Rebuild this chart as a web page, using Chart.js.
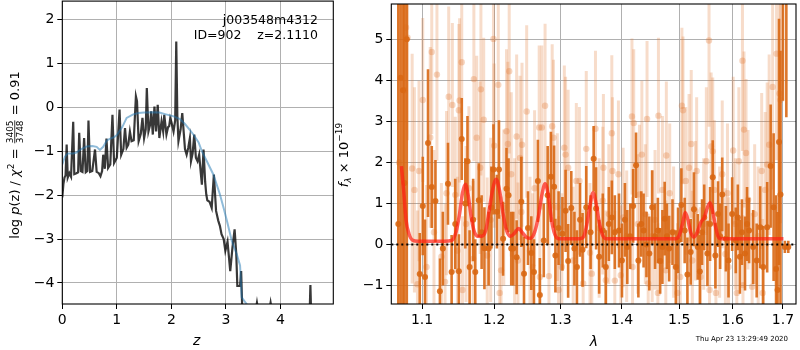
<!DOCTYPE html>
<html>
<head>
<meta charset="utf-8">
<script src="https://cdn.jsdelivr.net/npm/chart.js@4.4.0/dist/chart.umd.min.js"></script>
<style>
  html, body { margin: 0; padding: 0; background: #fff; }
  #wrap { position: relative; width: 800px; height: 350px; overflow: hidden; }
  #left { position: absolute; left: 0; top: 0; }
  #right { position: absolute; left: 330px; top: 0; }
  #stamp { position: absolute; left: 0; top: 335px; width: 788px; text-align: right;
           font: 7px "DejaVu Sans", sans-serif; line-height: 8px; color: #000; }
</style>
</head>
<body>
<div id="wrap">
  <canvas id="left" width="340" height="350"></canvas>
  <canvas id="right" width="470" height="350"></canvas>
  <div id="stamp">Thu Apr 23 13:29:49 2020</div>
</div>
<script>
// ---- left panel: log p(z) ----
const zTicks = [0, 1, 2, 3, 4];
const pTicks = [-4, -3, -2, -1, 0, 1, 2];

const zDark = [0.00, 0.02, 0.04, 0.06, 0.08, 0.10, 0.13, 0.16, 0.20, 0.22, 0.26, 0.29, 0.31, 0.34, 0.37,
  0.40, 0.43, 0.46, 0.48, 0.51, 0.55, 0.60, 0.63, 0.67, 0.70, 0.73, 0.75, 0.78, 0.81, 0.84, 0.88,
  0.92, 0.95, 1.00, 1.05, 1.08, 1.12, 1.15, 1.18, 1.21, 1.24, 1.27, 1.31, 1.35, 1.37, 1.40, 1.44,
  1.47, 1.50, 1.53, 1.55, 1.58, 1.61, 1.63, 1.66, 1.69, 1.72, 1.75, 1.78, 1.82, 1.85, 1.87, 1.91,
  1.94, 1.96, 1.98, 2.00, 2.04, 2.07, 2.09, 2.11, 2.13, 2.17, 2.20, 2.23, 2.25, 2.28, 2.31, 2.34,
  2.36, 2.39, 2.42, 2.45, 2.48, 2.51, 2.54, 2.56, 2.59, 2.62, 2.64, 2.66, 2.70, 2.74, 2.78, 2.82,
  2.86, 2.89, 2.92, 2.96, 2.99, 3.03, 3.08, 3.12, 3.16, 3.19, 3.21, 3.26, 3.28, 3.30, 3.40, 3.55,
  3.57, 3.59, 3.80, 3.82, 3.84, 4.20, 4.53, 4.55, 4.57, 4.97];
const logpDark = [-2.05, -1.75, -1.60, -1.55, -0.85, -1.60, -1.50, -1.58, -0.33, -1.52, -1.50, -1.48, -0.58, -1.45, -1.47,
  -0.70, -1.48, -1.45, -0.30, -1.47, -1.45, -0.96, -1.47, -1.50, -1.57, -1.45, -1.08, -1.40, -0.71, -1.38, -1.30,
  -0.17, -1.27, -1.15, -0.05, -1.08, -0.95, -0.47, -0.92, -0.85, -0.55, -0.77, -0.75, 0.25, 0.14, -0.77, -0.60,
  -0.24, -0.70, -0.50, 0.44, -0.55, -0.40, -0.09, -0.62, 0.02, -0.55, 0.06, -0.70, -0.32, -0.55, -0.17, -0.62,
  -0.45, -0.43, -0.25, -0.33, -0.55, -0.30, 1.50, -0.20, -0.77, -0.50, -0.13, -0.62, -0.95, -1.08, -0.92, -0.70,
  -1.23, -1.05, -0.62, -1.15, -1.23, -1.08, -1.50, -1.76, -0.96, -1.70, -1.98, -2.12, -2.15, -2.29, -1.53, -2.36,
  -2.58, -2.70, -2.89, -3.00, -3.27, -3.06, -3.73, -3.20, -2.78, -3.33, -4.07, -4.07, -3.73, -4.60, -4.90, -4.60,
  -4.45, -4.60, -4.60, -4.45, -4.60, -5.00, -5.00, -4.05, -5.00, -5.20];

const zBlue = [0.00, 0.05, 0.10, 0.20, 0.26, 0.35, 0.45, 0.55, 0.63, 0.69, 0.75, 0.82, 0.87, 0.95, 1.00,
  1.10, 1.18, 1.30, 1.40, 1.50, 1.65, 1.78, 1.90, 2.03, 2.16, 2.25, 2.33, 2.41, 2.50, 2.56, 2.66,
  2.77, 2.89, 2.96, 3.02, 3.11, 3.20, 3.26, 3.29, 3.38, 3.45, 3.60];
const logpBlue = [-1.30, -1.12, -1.05, -1.05, -1.03, -0.95, -0.89, -0.88, -0.90, -0.97, -0.90, -0.75, -0.72, -0.68, -0.63,
  -0.45, -0.24, -0.16, -0.13, -0.12, -0.11, -0.12, -0.16, -0.20, -0.27, -0.38, -0.50, -0.63, -0.80, -1.00, -1.25,
  -1.53, -1.98, -2.30, -2.59, -3.05, -3.35, -3.60, -4.33, -4.48, -4.60, -4.70];

// ---- right panel: spectrum ----
const lamTicks = [1.1, 1.2, 1.3, 1.4, 1.5, 1.6, 1.7];
const fluxTicks = [-1, 0, 1, 2, 3, 4, 5];

const darkLam = [1.069, 1.072, 1.075, 1.077, 1.080, 1.097, 1.101, 1.104, 1.108, 1.113, 1.118, 1.124, 1.128, 1.135,
  1.140, 1.145, 1.150, 1.154, 1.159, 1.162, 1.165, 1.170, 1.173, 1.178, 1.182, 1.186, 1.192, 1.196, 1.199,
  1.204, 1.207, 1.213, 1.218, 1.221, 1.225, 1.228, 1.233, 1.240, 1.244, 1.250, 1.255, 1.259, 1.265, 1.268,
  1.274, 1.280, 1.285, 1.290, 1.292, 1.297, 1.303, 1.308, 1.312, 1.317, 1.322, 1.326, 1.331, 1.335, 1.341,
  1.348, 1.353, 1.357, 1.362, 1.368, 1.373, 1.378, 1.383, 1.388, 1.395, 1.400, 1.405, 1.409, 1.414, 1.419,
  1.424, 1.428, 1.433, 1.437, 1.442, 1.447, 1.452, 1.457, 1.462, 1.466, 1.470, 1.474, 1.478, 1.482, 1.488,
  1.494, 1.498, 1.504, 1.510, 1.515, 1.521, 1.527, 1.534, 1.538, 1.542, 1.546, 1.552, 1.557, 1.562, 1.567,
  1.572, 1.576, 1.580, 1.587, 1.592, 1.599, 1.606, 1.610, 1.614, 1.618, 1.624, 1.628, 1.632, 1.640, 1.647,
  1.654, 1.660, 1.668, 1.675, 1.681, 1.686, 1.689, 1.692, 1.695, 1.700, 1.704, 1.707, 1.711];
const darkFlux = [0.5, 4.06, 3.76, 1.50, 5.0, -0.72, 0.94, -0.79, 2.47, 1.40, 1.06, -1.14, -0.10, 1.48,
  -0.67, 0.50, -0.65, 2.57, 1.00, 2.03, -0.55, 0.60, -0.67, 1.08, 0.30, -0.09, -0.10, 0.90, 1.83,
  0.80, 1.83, 0.14, 1.36, 1.20, -0.10, -0.10, -0.31, 1.04, -0.71, 0.40, -0.21, -0.67, 1.55, -1.23,
  0.10, 1.20, 1.65, 1.41, -0.27, 0.40, 0.26, 0.82, -0.40, 0.89, -0.10, -0.55, 0.60, -0.13, 0.91,
  0.30, 2.09, 0.88, -0.30, 0.34, -0.55, 0.50, 0.66, 0.30, 0.34, -0.39, 0.60, -0.06, 0.20, 0.94,
  1.93, -0.39, 0.50, 0.34, 0.00, -0.22, 0.91, 0.20, 0.34, -0.40, -0.06, 0.63, 0.20, -0.10, 0.30,
  -0.55, 0.10, 0.96, 0.34, -0.73, -0.18, 0.86, -0.06, -0.66, 0.30, 0.66, -0.22, 0.50, 1.64, -0.27,
  0.74, 0.20, 1.22, 0.14, -0.39, 0.74, 0.10, 0.66, -0.30, 0.30, -0.22, 0.50, 0.34, -0.06, -0.39,
  0.42, -0.55, 0.42, 1.91, 0.91, -0.60, -1.11, 2.50, 1.22, 8.0, -0.06, 7.0, -0.06];
const darkErr = [8, 8, 8, 8, 8, 1.0, 1.2, 1.4, 1.8, 1.0, 1.0, 0.8, 0.9, 1.0,
  0.9, 1.1, 0.9, 1.0, 1.1, 1.1, 0.9, 1.0, 0.8, 0.9, 0.9, 1.0, 0.9, 1.0, 1.1,
  0.9, 1.2, 0.9, 1.0, 0.9, 0.9, 0.9, 0.9, 1.1, 0.9, 0.9, 0.9, 0.8, 1.0, 0.9,
  0.9, 1.2, 1.1, 1.0, 0.9, 0.9, 0.9, 1.0, 0.9, 0.9, 0.9, 0.9, 0.9, 0.9, 1.0,
  0.9, 0.8, 1.0, 0.9, 0.9, 0.9, 0.9, 0.9, 0.9, 0.9, 0.9, 0.9, 0.9, 0.8, 0.9,
  0.8, 0.9, 0.8, 0.9, 0.8, 0.9, 0.9, 0.8, 0.8, 0.8, 0.9, 0.9, 0.8, 0.8, 0.8,
  0.9, 0.8, 0.9, 0.8, 0.9, 0.8, 0.9, 0.8, 0.9, 0.8, 0.8, 0.8, 0.9, 0.9, 0.8,
  0.8, 0.8, 0.9, 0.8, 0.9, 0.9, 0.8, 0.8, 0.9, 0.8, 0.9, 0.9, 0.8, 0.9, 0.9,
  1.0, 1.0, 1.1, 1.5, 1.8, 1.8, 1.9, 3.0, 3.5, 4.5, 0.15, 3.9, 0.15];

const lightLam = [1.070, 1.077, 1.079, 1.081, 1.087, 1.090, 1.094, 1.096, 1.101, 1.106, 1.111, 1.113, 1.116, 1.120,
  1.126, 1.131, 1.133, 1.136, 1.141, 1.145, 1.148, 1.150, 1.151, 1.154, 1.155, 1.160, 1.164, 1.170, 1.171,
  1.175, 1.180, 1.181, 1.185, 1.190, 1.195, 1.199, 1.200, 1.206, 1.208, 1.210, 1.214, 1.218, 1.220, 1.222,
  1.225, 1.230, 1.233, 1.235, 1.238, 1.240, 1.241, 1.248, 1.253, 1.257, 1.260, 1.267, 1.268, 1.271, 1.276,
  1.282, 1.287, 1.289, 1.295, 1.297, 1.302, 1.306, 1.308, 1.312, 1.320, 1.325, 1.330, 1.336, 1.341, 1.347,
  1.350, 1.356, 1.362, 1.368, 1.369, 1.373, 1.378, 1.383, 1.384, 1.388, 1.394, 1.398, 1.402, 1.408, 1.417,
  1.418, 1.420, 1.427, 1.430, 1.434, 1.440, 1.443, 1.445, 1.452, 1.457, 1.462, 1.463, 1.470, 1.476, 1.477,
  1.483, 1.490, 1.497, 1.502, 1.505, 1.507, 1.512, 1.518, 1.522, 1.524, 1.530, 1.532, 1.539, 1.545, 1.550,
  1.555, 1.556, 1.559, 1.562, 1.565, 1.568, 1.575, 1.580, 1.586, 1.590, 1.592, 1.601, 1.605, 1.608, 1.612,
  1.619, 1.620, 1.622, 1.626, 1.630, 1.638, 1.643, 1.650, 1.657, 1.659, 1.664, 1.668, 1.672, 1.679, 1.687,
  1.693, 1.695];
const lightFlux = [2.0, 3.76, 5.29, 5.04, 1.85, 1.33, -0.97, 1.79, 3.52, -0.55, 2.61, 4.69, 0.30, 4.14,
  -0.30, -0.91, 1.25, 3.60, 3.40, 1.21, -0.15, 3.27, 3.51, 4.44, -1.11, 0.50, 1.37, -0.35, 4.03,
  2.60, 1.87, 3.78, 3.04, -0.27, 0.60, 5.01, 2.41, 3.89, -1.18, -0.63, 0.90, 2.76, 2.45, 4.22,
  1.71, 0.30, 2.63, -0.39, 2.11, 0.79, 2.43, 3.24, -0.15, -0.55, 1.37, 2.85, -0.79, 2.85, 3.38,
  -0.77, 2.88, 2.60, 0.91, -1.11, -0.55, 2.36, 2.19, 1.87, -0.39, 1.55, 1.55, -0.95, 2.33, -0.20,
  -0.71, 2.82, 0.40, 1.07, 1.87, -0.87, 0.74, 2.71, 1.79, -0.88, 1.71, -0.75, 0.66, 0.20, 3.12,
  -0.55, 2.96, 0.50, 1.22, 2.19, 0.74, 3.06, -0.95, 0.20, 0.60, -1.18, 3.14, 1.33, -0.63, 2.17,
  1.25, 0.30, -1.18, -0.79, 3.38, 3.27, 1.55, 1.87, 2.45, -0.39, 0.82, 1.79, -0.79, 0.50, 2.03,
  4.97, -1.11, 2.39, 2.27, 1.33, -1.18, 0.30, 1.71, -0.23, 1.25, -0.55, 2.29, 0.50, -1.18, 2.03,
  4.48, -0.99, 2.80, 2.23, 1.09, -1.03, 0.74, 0.20, 1.79, -1.18, 1.33, 1.95, 2.43, 3.84, 4.65,
  3.68, 3.52];
const lightErr = [6.0, 3.0, 2.5, 2.5, 2.8, 2.5, 1.8, 2.2, 2.0, 2.0, 2.2, 2.0, 2.0, 2.1,
  1.8, 1.9, 2.0, 2.2, 2.0, 1.9, 1.8, 2.1, 2.0, 2.0, 1.8, 1.9, 2.0, 1.9, 2.0,
  2.0, 2.1, 2.1, 2.0, 1.9, 2.0, 2.2, 2.0, 2.2, 1.9, 1.8, 1.9, 2.0, 2.0, 2.0,
  2.0, 1.8, 2.0, 1.9, 2.0, 1.8, 2.0, 2.1, 1.8, 1.8, 1.9, 2.0, 1.8, 2.0, 2.0,
  1.8, 2.0, 1.9, 1.8, 1.8, 1.8, 2.0, 1.9, 1.9, 1.8, 1.9, 1.8, 1.8, 1.9, 1.7,
  1.8, 1.9, 1.7, 1.8, 1.8, 1.7, 1.7, 1.9, 1.8, 1.7, 1.8, 1.7, 1.7, 1.6, 1.9,
  1.7, 1.8, 1.7, 1.7, 1.8, 1.7, 1.9, 1.7, 1.6, 1.7, 1.7, 1.9, 1.8, 1.7, 1.8,
  1.7, 1.6, 1.7, 1.7, 1.9, 1.8, 1.8, 1.8, 1.8, 1.7, 1.7, 1.8, 1.7, 1.6, 1.8,
  2.1, 1.7, 1.8, 1.8, 1.7, 1.7, 1.6, 1.8, 1.6, 1.7, 1.7, 1.8, 1.6, 1.7, 1.8,
  2.2, 1.7, 1.9, 1.8, 1.7, 1.8, 1.7, 1.7, 1.9, 1.8, 1.9, 2.0, 2.2, 2.5, 2.6,
  3.0, 3.0];

const lamModel = [1.073, 1.076, 1.079, 1.083, 1.088, 1.095, 1.110, 1.130, 1.140, 1.146, 1.151, 1.155, 1.159,
  1.163, 1.167, 1.171, 1.176, 1.182, 1.188, 1.193, 1.198, 1.203, 1.208, 1.213, 1.218, 1.224, 1.230,
  1.236, 1.242, 1.248, 1.254, 1.260, 1.266, 1.271, 1.276, 1.281, 1.286, 1.291, 1.297, 1.310, 1.330,
  1.337, 1.342, 1.347, 1.352, 1.357, 1.362, 1.367, 1.373, 1.400, 1.450, 1.494, 1.500, 1.506, 1.511,
  1.516, 1.521, 1.527, 1.533, 1.540, 1.546, 1.552, 1.557, 1.562, 1.567, 1.572, 1.578, 1.650, 1.701];
const fluxModel = [1.91, 1.30, 0.60, 0.25, 0.10, 0.08, 0.08, 0.08, 0.10, 0.30, 0.75, 1.25, 1.47,
  1.20, 0.70, 0.35, 0.20, 0.20, 0.35, 0.85, 1.35, 1.59, 1.30, 0.75, 0.35, 0.20, 0.28,
  0.39, 0.28, 0.17, 0.15, 0.30, 0.70, 1.20, 1.48, 1.20, 0.60, 0.25, 0.14, 0.14, 0.14,
  0.20, 0.50, 0.95, 1.26, 1.00, 0.55, 0.25, 0.14, 0.14, 0.14, 0.14, 0.22, 0.50, 0.78,
  0.60, 0.30, 0.18, 0.30, 0.55, 0.65, 0.90, 1.02, 0.80, 0.45, 0.20, 0.14, 0.14, 0.14];

const lamRange = [1.06, 1.727];
const zeroFlux = [0, 0];

// ---------------------------------------------------------------
const FONT = '"DejaVu Sans", sans-serif';
const pts = (xs, ys) => xs.map((x, i) => ({ x: x, y: ys[i] }));
const minus = v => (v < 0 ? '\u2212' + Math.abs(v) : String(v));

// draws vertical error bars under each dataset that has an `errors` array
const errorBars = {
  id: 'errorBars',
  beforeDatasetDraw(chart, args) {
    const ds = chart.data.datasets[args.index];
    if (!ds.errors) return;
    const { ctx, chartArea: a, scales } = chart;
    ctx.save();
    ctx.beginPath();
    ctx.rect(a.left, a.top, a.right - a.left, a.bottom - a.top);
    ctx.clip();
    ctx.strokeStyle = ds.errorColor;
    ctx.lineWidth = ds.errorWidth;
    ds.data.forEach((p, i) => {
      const px = scales.x.getPixelForValue(p.x);
      ctx.beginPath();
      ctx.moveTo(px, scales.y.getPixelForValue(p.y - ds.errors[i]));
      ctx.lineTo(px, scales.y.getPixelForValue(p.y + ds.errors[i]));
      ctx.stroke();
    });
    ctx.restore();
  }
};

// black box around the axes, like matplotlib spines
const frame = {
  id: 'frame',
  afterDraw(chart) {
    const { ctx, chartArea: a } = chart;
    ctx.save();
    ctx.strokeStyle = '#000';
    ctx.lineWidth = 1.1;
    ctx.strokeRect(a.left, a.top, a.right - a.left, a.bottom - a.top);
    ctx.restore();
  }
};

function drawRuns(ctx, runs, cx, cy) {
  // runs: [text, font, dy]
  let total = 0;
  runs.forEach(r => { ctx.font = r[1]; r.w = ctx.measureText(r[0]).width; total += r.w; });
  let x = cx - total / 2;
  runs.forEach(r => {
    ctx.font = r[1];
    ctx.fillText(r[0], x, cy + r[2]);
    x += r.w;
  });
}

const leftLabels = {
  id: 'leftLabels',
  afterDraw(chart) {
    const ctx = chart.ctx;
    ctx.save();
    ctx.fillStyle = '#000';
    ctx.textBaseline = 'alphabetic';
    ctx.textAlign = 'left';
    // x label
    ctx.font = 'italic 14px ' + FONT;
    ctx.fillText('z', 197 - 4, 345);
    // annotation
    ctx.font = '12.5px ' + FONT;
    ctx.textAlign = 'right';
    ctx.fillText('j003548m4312', 318, 24);
    ctx.fillText('ID=902    z=2.1110', 318, 39);
    ctx.textAlign = 'left';
    // rotated y label with a stacked fraction
    ctx.translate(19, 155);
    ctx.rotate(-Math.PI / 2);
    const big = '13px ' + FONT, ital = 'italic 13px ' + FONT, small = '9px ' + FONT;
    const pre = [['log ', big, 0], ['p', ital, 0], ['(z) / ', big, 0], ['\u03c7', ital, 0], ['2', small, -5], [' = ', big, 0]];
    const post = [[' = 0.91', big, 0]];
    ctx.font = small;
    const fw = Math.max(ctx.measureText('3405').width, ctx.measureText('3748').width) + 2;
    let total = 0;
    pre.concat(post).forEach(r => { ctx.font = r[1]; r.w = ctx.measureText(r[0]).width; total += r.w; });
    total += fw;
    let x = -total / 2;
    pre.forEach(r => { ctx.font = r[1]; ctx.fillText(r[0], x, r[2]); x += r.w; });
    ctx.font = small;
    ctx.textAlign = 'center';
    ctx.fillText('3405', x + fw / 2, -6);
    ctx.fillText('3748', x + fw / 2, 4);
    ctx.fillRect(x + 1, -4.6, fw - 2, 0.8);
    ctx.textAlign = 'left';
    x += fw;
    post.forEach(r => { ctx.font = r[1]; ctx.fillText(r[0], x, r[2]); x += r.w; });
    ctx.restore();
  }
};

const rightLabels = {
  id: 'rightLabels',
  afterDraw(chart) {
    const ctx = chart.ctx;
    ctx.save();
    ctx.fillStyle = '#000';
    ctx.textBaseline = 'alphabetic';
    ctx.font = 'italic 14px ' + FONT;
    ctx.textAlign = 'center';
    ctx.fillText('\u03bb', 594 - 330, 346);
    ctx.textAlign = 'left';
    ctx.translate(18, 155);
    ctx.rotate(-Math.PI / 2);
    drawRuns(ctx, [
      ['f', 'italic 13px ' + FONT, 0],
      ['\u03bb', 'italic 9px ' + FONT, 3],
      [' \u00d7 10', '13px ' + FONT, 0],
      ['\u221219', '9px ' + FONT, -6]
    ], 0, 0);
    ctx.restore();
  }
};

// fixed box sizes so the plot areas land where matplotlib put them
const fixX = s => { s.height = 46; s.paddingLeft = 0; s.paddingRight = 0; };
const fixY = w => s => { s.width = w; s.paddingTop = 0; s.paddingBottom = 0; };

function axisStyle(extra) {
  return Object.assign({
    grid: { color: '#b0b0b0', lineWidth: 1, tickColor: '#000', tickLength: 5, drawTicks: true },
    border: { display: false },
    ticks: { color: '#000', font: { family: FONT, size: 14 }, padding: 3, autoSkip: false, maxRotation: 0 }
  }, extra);
}

new Chart(document.getElementById('left'), {
  type: 'scatter',
  data: {
    datasets: [
      { data: pts(zBlue, logpBlue), showLine: true, borderColor: 'rgba(31,119,180,0.5)', borderWidth: 2,
        pointRadius: 0, order: 0 },
      { data: pts(zDark, logpDark), showLine: true, borderColor: 'rgba(0,0,0,0.78)', borderWidth: 2.2,
        pointRadius: 0, order: 1 }
    ]
  },
  options: {
    responsive: false,
    animation: false,
    events: [],
    layout: { padding: { top: 1, right: 6.7, left: 0, bottom: 0 } },
    plugins: { legend: { display: false }, tooltip: { enabled: false } },
    scales: {
      x: axisStyle({
        type: 'linear', min: 0, max: 4.97,
        afterBuildTicks: s => { s.ticks = zTicks.map(v => ({ value: v })); },
        afterFit: fixX
      }),
      y: axisStyle({
        type: 'linear', min: -4.48, max: 2.42,
        afterBuildTicks: s => { s.ticks = pTicks.map(v => ({ value: v })); },
        afterFit: fixY(62.3)
      })
    }
  },
  plugins: [frame, leftLabels]
});
// tick label callbacks with unicode minus
const lc = Chart.getChart('left');
lc.options.scales.y.ticks.callback = v => minus(v);
lc.update();

new Chart(document.getElementById('right'), {
  type: 'scatter',
  data: {
    datasets: [
      { data: pts(lamRange, zeroFlux), showLine: true, borderColor: '#000', borderWidth: 2,
        borderDash: [2, 3], pointRadius: 0, order: 0 },
      { data: pts(lamModel, fluxModel), showLine: true, borderColor: 'rgba(255,30,20,0.7)', borderWidth: 3.5,
        cubicInterpolationMode: 'monotone', pointRadius: 0, order: 1 },
      { data: pts(darkLam, darkFlux), errors: darkErr, errorColor: 'rgba(217,104,20,0.9)', errorWidth: 2.6,
        backgroundColor: 'rgba(217,104,20,0.9)', borderWidth: 0, pointRadius: 3, order: 2 },
      { data: pts(lightLam, lightFlux), errors: lightErr, errorColor: 'rgba(225,120,50,0.26)', errorWidth: 3,
        backgroundColor: 'rgba(225,120,50,0.3)', borderWidth: 0, pointRadius: 3.2, order: 3 }
    ]
  },
  options: {
    responsive: false,
    animation: false,
    events: [],
    layout: { padding: { top: 1, right: 0.7, left: 0, bottom: 0 } },
    plugins: { legend: { display: false }, tooltip: { enabled: false } },
    scales: {
      x: axisStyle({
        type: 'logarithmic', min: lamRange[0], max: lamRange[1],
        afterBuildTicks: s => { s.ticks = lamTicks.map(v => ({ value: v })); },
        afterFit: fixX
      }),
      y: axisStyle({
        type: 'linear', min: -1.45, max: 5.86,
        afterBuildTicks: s => { s.ticks = fluxTicks.map(v => ({ value: v })); },
        afterFit: fixY(61.3)
      })
    }
  },
  plugins: [errorBars, frame, rightLabels]
});
const rc = Chart.getChart('right');
rc.options.scales.x.ticks.callback = v => Number(v).toFixed(1);
rc.options.scales.y.ticks.callback = v => minus(v);
rc.update();
</script>
</body>
</html>
